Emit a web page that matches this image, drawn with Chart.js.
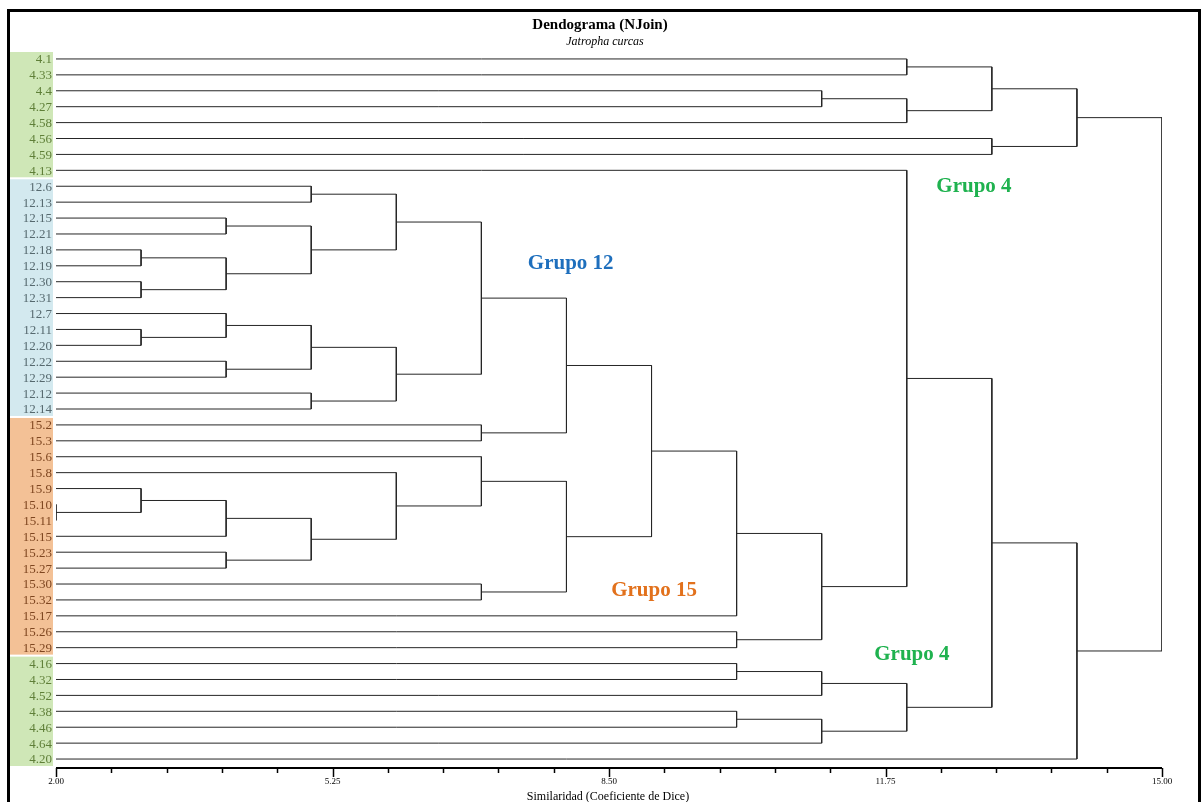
<!DOCTYPE html>
<html lang="es">
<head>
  <meta charset="UTF-8" />
  <title>Dendograma (NJoin)</title>
  <script src="https://cdn.jsdelivr.net/npm/chart.js"></script>
  <style>
    html, body { margin: 0; padding: 0; background: #ffffff; }
    canvas { display: block; }
  </style>
</head>
<body>
  <canvas id="dendro" width="1203" height="802"></canvas>

  <script>
    // leaves, top to bottom
    const leaves = [
      '4.1', '4.33', '4.4', '4.27', '4.58', '4.56', '4.59', '4.13',
      '12.6', '12.13', '12.15', '12.21', '12.18', '12.19', '12.30', '12.31',
      '12.7', '12.11', '12.20', '12.22', '12.29', '12.12', '12.14',
      '15.2', '15.3', '15.6', '15.8', '15.9', '15.10', '15.11', '15.15',
      '15.23', '15.27', '15.30', '15.32', '15.17', '15.26', '15.29',
      '4.16', '4.32', '4.52', '4.38', '4.46', '4.64', '4.20'
    ];

    // merges: '#k' points at merge number k
    const mergeA = [
      '4.1', '4.4', '#1', '#0', '4.56', '#3',
      '12.6', '12.15', '12.18', '12.30', '#8', '#7', '#6',
      '12.11', '12.7', '12.22', '#14', '12.12', '#16', '#12', '15.2', '#19',
      '15.10', '15.9', '#23', '15.23', '#24', '15.8', '15.6', '15.30', '#28', '#21',
      '#31', '15.26', '#32',
      '4.16', '#35', '4.38', '#37', '#36',
      '4.13', '#40', '#41', '#5'
    ];
    const mergeB = [
      '4.33', '4.27', '4.58', '#2', '4.59', '#4',
      '12.13', '12.21', '12.19', '12.31', '#9', '#10', '#11',
      '12.20', '#13', '12.29', '#15', '12.14', '#17', '#18', '15.3', '#20',
      '15.11', '#22', '15.15', '15.27', '#25', '#26', '#27', '15.32', '#29', '#30',
      '15.17', '15.29', '#33',
      '4.32', '4.52', '4.46', '4.64', '#38',
      '#34', '#39', '4.20', '#42'
    ];
    const mergeHeight = [
      12, 11, 12, 13, 13, 14,
      5, 4, 3, 3, 4, 5, 6,
      3, 4, 4, 5, 5, 6, 7, 7, 8,
      2, 3, 4, 4, 5, 6, 7, 7, 8, 9,
      10, 10, 11,
      10, 11, 10, 11, 12,
      12, 13, 14, 15
    ];

    const majorTicks = [2.00, 5.25, 8.50, 11.75, 15.00];
    const minorStep = 0.65;

    const groupColors = {
      '4':  { band: '#cfe7b7', text: '#5f7f38' },
      '12': { band: '#d3e9ef', text: '#56696f' },
      '15': { band: '#f3c196', text: '#7e4620' }
    };

    const groupLabels = [
      { text: 'Grupo 4',  x: 12.79, row: 8.05, color: '#1fb24f' },
      { text: 'Grupo 12', x: 8.05,  row: 12.85, color: '#1e6fbd' },
      { text: 'Grupo 15', x: 9.03,  row: 33.4, color: '#e2711c' },
      { text: 'Grupo 4',  x: 12.06, row: 37.45, color: '#1fb24f' }
    ];

    // resolve a node to its row (y) and height (x)
    const nodePos = {};
    leaves.forEach((name, i) => { nodePos[name] = { y: i, h: 2 }; });

    const datasets = [];
    mergeHeight.forEach((h, k) => {
      const a = nodePos[mergeA[k]];
      const b = nodePos[mergeB[k]];
      nodePos['#' + k] = { y: (a.y + b.y) / 2, h };
      datasets.push({
        data: [
          { x: a.h, y: a.y },
          { x: h, y: a.y },
          { x: h, y: b.y },
          { x: b.h, y: b.y }
        ],
        showLine: true,
        borderColor: '#262626',
        borderWidth: 1,
        pointRadius: 0,
        tension: 0
      });
    });

    const groupOf = name => name.split('.')[0];

    const decor = {
      id: 'decor',
      beforeDatasetsDraw(chart) {
        const ctx = chart.ctx;
        const ys = chart.scales.y;
        const rowH = Math.abs(ys.getPixelForValue(1) - ys.getPixelForValue(0));
        ctx.save();
        // coloured bands behind the leaf names
        let start = 0;
        for (let i = 1; i <= leaves.length; i++) {
          if (i === leaves.length || groupOf(leaves[i]) !== groupOf(leaves[start])) {
            const top = ys.getPixelForValue(start) - rowH / 2;
            const bot = ys.getPixelForValue(i - 1) + rowH / 2;
            ctx.fillStyle = groupColors[groupOf(leaves[start])].band;
            ctx.fillRect(10, top + 1, 43, bot - top - 2);
            start = i;
          }
        }
        ctx.font = '13px "Liberation Serif"';
        ctx.textAlign = 'right';
        ctx.textBaseline = 'middle';
        leaves.forEach((name, i) => {
          ctx.fillStyle = groupColors[groupOf(name)].text;
          ctx.fillText(name, 52, ys.getPixelForValue(i) + 1);
        });
        ctx.restore();
      },
      afterDraw(chart) {
        const ctx = chart.ctx;
        const xs = chart.scales.x;
        const ys = chart.scales.y;
        const axisY = chart.chartArea.bottom + 1;
        ctx.save();

        // x axis
        ctx.strokeStyle = '#000';
        ctx.lineWidth = 2;
        ctx.beginPath();
        ctx.moveTo(xs.getPixelForValue(2), axisY);
        ctx.lineTo(xs.getPixelForValue(15), axisY);
        ctx.stroke();
        ctx.lineWidth = 1.5;
        for (let v = 2; v <= 15.001; v += minorStep) {
          const px = Math.round(xs.getPixelForValue(v)) + 0.5;
          const major = majorTicks.some(m => Math.abs(m - v) < 0.01);
          ctx.beginPath();
          ctx.moveTo(px, axisY);
          ctx.lineTo(px, axisY + (major ? 9 : 5));
          ctx.stroke();
        }
        ctx.fillStyle = '#000';
        ctx.font = '9px "Liberation Serif"';
        ctx.textAlign = 'center';
        ctx.textBaseline = 'middle';
        majorTicks.forEach(v => {
          ctx.fillText(v.toFixed(2), xs.getPixelForValue(v), axisY + 14);
        });
        ctx.font = '12px "Liberation Serif"';
        ctx.fillText('Similaridad (Coeficiente de Dice)', 608, 797);

        // title
        ctx.font = 'bold 15px "Liberation Serif"';
        ctx.fillText('Dendograma (NJoin)', 600, 25);
        ctx.font = 'italic 12px "Liberation Serif"';
        ctx.fillText('Jatropha curcas', 605, 42);

        // group names
        ctx.font = 'bold 21px "Liberation Serif"';
        groupLabels.forEach(g => {
          ctx.fillStyle = g.color;
          ctx.fillText(g.text, xs.getPixelForValue(g.x), ys.getPixelForValue(g.row));
        });

        // frame
        ctx.strokeStyle = '#000';
        ctx.lineWidth = 3;
        ctx.beginPath();
        ctx.moveTo(8.5, 802);
        ctx.lineTo(8.5, 10.5);
        ctx.lineTo(1199.5, 10.5);
        ctx.lineTo(1199.5, 802);
        ctx.stroke();
        ctx.restore();
      }
    };

    new Chart(document.getElementById('dendro'), {
      type: 'scatter',
      data: { datasets },
      options: {
        responsive: false,
        animation: false,
        layout: { padding: { left: 56, right: 41, top: 51, bottom: 35 } },
        scales: {
          x: { type: 'linear', min: 2, max: 15, display: false },
          y: { type: 'linear', min: -0.5, max: leaves.length - 0.5, reverse: true, display: false }
        },
        plugins: {
          legend: { display: false },
          tooltip: { enabled: false }
        }
      },
      plugins: [decor]
    });
  </script>
</body>
</html>
